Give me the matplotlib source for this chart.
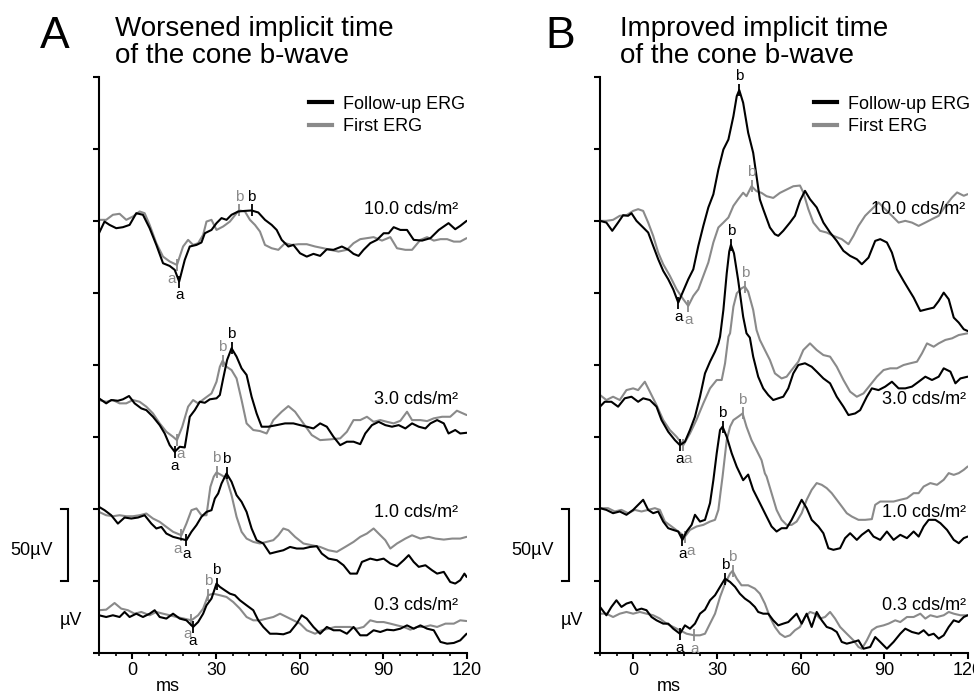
import numpy as np
import matplotlib
matplotlib.use('Agg')
import matplotlib.pyplot as plt
from matplotlib.lines import Line2D
from matplotlib.ticker import MultipleLocator
import matplotlib.transforms as mtrans

plt.rcParams['font.family'] = ['Liberation Sans', 'DejaVu Sans']

# ---------------- data (time in ms, amplitude in µV relative to trace baseline) -------------
intensities = ['10.0', '3.0', '1.0', '0.3']
series_names = ['Follow-up ERG', 'First ERG']

# ----- Panel A: worsened implicit time -----
A10_follow = [(-12,-8.6),(-10,-0.5),(-8.2,-2.8),(-5.8,-5.1),(-3.4,-4.4),(-1.0,-2.8),(1.4,5.3),(3.8,4.2),(6.2,-5.1),(8.6,-16.7),(11.0,-29.4),(13.4,-31.3),(15.2,-34),(16.8,-42.1),(18.8,-27.1),(20.6,-17.8),(23.0,-16.7),(24.8,-15),(26.0,-8.6),(28.4,-6.3),(30.2,-1.6),(32.0,1.9),(33.8,0.7),(35.6,4.2),(38.0,6.5),(40.4,6.9),(42.8,7.2),(45.2,5.8),(47.6,0.7),(50.0,-2.8),(51.8,-6.3),(53.6,-13.2),(56.0,-17.8),(57.8,-16.7),(60.2,-22.5),(62.6,-24.8),(65.0,-22.9),(67.4,-24.3),(69.8,-19.7),(72.2,-20.1),(75.2,-17.8),(77.6,-20.1),(79.4,-22.9),(81.2,-24.3),(83.0,-20.1),(85.4,-15.5),(87.8,-13.2),(90.2,-8.6),(92.0,-8.6),(93.8,-4.4),(96.2,-6.3),(98.6,-6.3),(101.0,-13.2),(104.0,-13.7),(107.0,-12),(110.0,-6.3),(113.5,-1.6),(115.9,-5.8),(117.7,-3.5),(120,0)]
A10_first = [(-12,0.7),(-9.4,0.7),(-7.0,4.2),(-4.6,4.9),(-2.2,0.7),(0.2,3.0),(2.6,6.5),(4.4,5.3),(6.2,-2.8),(8.6,-15.5),(11.0,-24.8),(13.4,-28.2),(16.0,-30.6),(18.2,-17.8),(20.0,-13.2),(21.8,-16.7),(23.6,-15.5),(25.4,-9.7),(26.6,-0.5),(28.4,0.7),(30.2,-6.3),(32.6,-3.9),(35.0,-0.5),(37.4,5.3),(38.4,7.2),(40.4,6.5),(42.2,0.7),(44.0,-2.8),(45.8,-7.4),(47.6,-16.7),(50.0,-19),(52.4,-20.1),(54.8,-15.5),(57.2,-16.7),(59.6,-16.2),(62.6,-16.2),(65.6,-17.8),(68.6,-19),(71.0,-20.1),(74.0,-21.3),(77.0,-20.1),(79.4,-15.5),(81.8,-12.7),(84.2,-12),(86.6,-11.3),(89.6,-13.7),(92.6,-11.3),(95.0,-19),(98.0,-20.1),(100.4,-20.1),(103.4,-13.2),(105.8,-11.3),(108.2,-13.7),(110.6,-12.7),(113.0,-12.7),(115.4,-14.4),(117.7,-14.4),(120,-12)]
A3_follow = [(-12,1.9),(-9.4,-1.6),(-7.6,0.7),(-5.2,0.2),(-3.4,1.2),(-1.2,3.5),(0.8,-1.6),(3.2,-5.1),(5.0,-6.3),(7.4,-10.9),(9.8,-16.7),(11.6,-22.5),(13.4,-30.6),(15.2,-35.2),(17.0,-31.7),(18.8,-32.2),(20.6,-10.9),(22.4,-6.3),(24.2,-0.5),(26.0,-1.2),(27.8,1.2),(30.2,1.9),(31.4,4.2),(32.6,15.7),(34.0,28.5),(35.6,36.6),(37.4,30.8),(39.2,22.7),(41.0,18.1),(42.8,3.0),(44.6,-8.6),(46.4,-17.8),(48.8,-17.8),(51.8,-16.7),(54.8,-15.5),(57.8,-15.5),(60.2,-16.7),(62.6,-17.8),(65.0,-19),(67.4,-15.5),(69.8,-17.8),(72.2,-24.8),(74.6,-30.6),(77.0,-28.2),(79.4,-28.2),(81.8,-29.9),(83.6,-22.5),(86.0,-16.7),(88.4,-14.4),(90.8,-16.7),(93.2,-17.8),(95.6,-16.7),(98.0,-19),(100.4,-15.5),(102.8,-17.8),(105.2,-19),(107.0,-15.5),(109.4,-13.2),(111.8,-15.5),(113.5,-22.5),(115.9,-20.1),(117.7,-22.5),(120,-22)]
A3_first = [(-12,0.7),(-9.4,-0.5),(-7.0,0.7),(-4.6,-1.6),(-2.2,-1.6),(0.2,0.7),(2.6,-0.5),(5.0,-3.9),(7.4,-8.6),(9.8,-15.5),(12.2,-21.3),(14.6,-24.8),(16.0,-27.1),(17.9,-17.8),(20.0,-3.9),(21.8,0.7),(23.6,-1.6),(26.0,1.9),(28.4,5.3),(30.2,13.4),(31.4,23.8),(32.4,28),(33.8,23.8),(35.6,21.5),(37.4,15.7),(39.2,0.7),(41.0,-15.5),(43.4,-20.1),(45.8,-20.8),(48.2,-22.5),(50.6,-13.2),(53.6,-7.4),(56.0,-3.5),(58.4,-7.4),(61.4,-15.5),(64.4,-23.6),(67.4,-27.1),(70.9,-26.6),(74.6,-25.9),(77.0,-21.3),(79.4,-13.2),(81.8,-13.2),(84.2,-10.9),(86.6,-14.4),(89.0,-13.2),(91.4,-14.4),(93.8,-15.5),(96.2,-13.7),(98.6,-7.4),(100.4,-13.2),(103.4,-13.2),(105.8,-13.9),(108.2,-12),(111.2,-10.9),(114.1,-10.9),(116.5,-6.7),(120,-9.7)]
A1_follow = [(-12,1.6),(-10.0,-0.7),(-7.6,-4.2),(-5.2,-10),(-2.8,-5.8),(-0.4,-6.5),(2.0,-5.8),(4.4,-4.2),(6.8,-10),(8.6,-13.4),(10.4,-12.3),(12.2,-16.9),(14.6,-19.2),(17.0,-20.4),(19.4,-21.5),(21.2,-15.7),(23.0,-11.1),(24.8,-5.3),(26.6,-1.9),(28.4,-0.7),(29.6,7.4),(30.8,10.9),(32.0,17.8),(33.8,24.8),(35.6,19),(37.4,9.7),(39.2,5.1),(41.0,-1.9),(42.8,-13.4),(44.6,-21.5),(47.0,-23.8),(49.4,-30.8),(51.8,-29.6),(54.2,-28.5),(56.6,-26.2),(59.0,-27.3),(61.4,-27.3),(63.8,-26.2),(66.2,-25.7),(68.0,-30.8),(70.4,-34.3),(73.4,-35.4),(75.8,-38.9),(78.2,-44.7),(80.6,-44.7),(82.4,-36.6),(85.4,-34.3),(87.8,-35.4),(90.2,-34.3),(92.6,-37.7),(95.0,-39.6),(97.4,-35.4),(99.2,-31.9),(101.0,-36.6),(102.8,-40),(105.2,-38.9),(107.6,-42.4),(109.4,-44.7),(111.8,-43.5),(114.1,-50.5),(115.9,-51.6),(117.7,-49.3),(119.2,-44.7),(120,-47)]
A1_first = [(-12,-1.9),(-9.4,-4.2),(-7.0,-4.9),(-4.6,-4.2),(-2.2,-4.9),(0.2,-4.9),(2.6,-4.2),(5.0,-3),(7.4,-6.5),(9.8,-8.8),(12.2,-12.3),(14.6,-15.7),(17.6,-18.1),(19.4,-10),(21.2,-0.7),(23.0,0.5),(24.8,-4.2),(26.6,-4.2),(28.0,15.5),(29.2,22.5),(30.2,25.5),(32.0,23.6),(33.8,21.3),(35.6,9.7),(37.4,-5.3),(39.2,-15.7),(41.0,-20.4),(43.4,-22.7),(45.8,-23.8),(48.2,-22.7),(50.6,-21.5),(52.4,-18.1),(54.2,-13.4),(56.0,-14.6),(58.4,-19.2),(61.4,-23.8),(64.4,-25),(67.4,-26.2),(70.4,-28.5),(73.4,-29.6),(76.4,-26.2),(79.4,-22.7),(81.8,-19.2),(84.2,-16.9),(86.6,-13.4),(88.4,-16.9),(90.8,-21.5),(92.6,-27.3),(95.0,-23.8),(98.0,-20.4),(100.4,-18.1),(103.4,-20.4),(106.4,-19.2),(108.8,-20.4),(111.8,-21.1),(114.8,-20.4),(117.7,-20.4),(120,-19.2)]
A03_follow = [(-12,-1.6),(-9.4,-2.8),(-7.0,-1.6),(-4.6,-2.8),(-2.8,0.7),(-1.0,-2.8),(1.4,-0.5),(3.8,-2.8),(6.2,-0.5),(8.0,1.9),(9.8,-2.8),(12.2,-3.9),(14.6,-0.5),(17.0,-3.9),(19.4,-5.1),(21.8,-9.7),(23.6,-6.3),(25.4,-0.5),(26.6,5.3),(28.4,10),(30.2,20.4),(31.4,18.1),(33.2,15.7),(35.0,13.4),(36.8,12.3),(38.6,8.8),(41.0,5.3),(43.4,1.9),(45.2,-5.1),(47.0,-9.7),(49.4,-14.4),(51.8,-14.4),(54.2,-14.8),(56.6,-13.2),(59.0,-7.4),(60.8,-1.6),(62.6,-3.9),(65.0,-9.7),(67.4,-14.4),(69.8,-9.7),(72.2,-12),(74.6,-12),(77.0,-14.4),(79.4,-9.7),(81.8,-15.5),(84.2,-15.5),(86.6,-12),(89.0,-13.2),(91.4,-11.6),(93.8,-12),(96.2,-10.9),(98.6,-8.6),(101.0,-10.9),(103.4,-8.6),(105.8,-10.9),(108.2,-12),(110.6,-20.1),(113.0,-21.3),(115.4,-20.8),(117.7,-19),(120,-14.4)]
A03_first = [(-12,1.9),(-9.4,2.3),(-6.4,6.9),(-4.0,3.0),(-1.6,1.9),(0.8,-0.5),(3.2,0.7),(6.2,-1.6),(8.6,0.7),(11.0,-0.5),(13.4,-1.6),(15.8,-2.8),(18.5,-3.9),(21.2,-5.1),(23.6,-1.6),(25.4,3.0),(27.2,12.3),(29.0,13.4),(31.4,12.3),(33.8,11.1),(36.2,7.6),(38.6,3.0),(41.0,-2.8),(43.4,-5.1),(45.8,-5.1),(48.2,-3.9),(50.6,-2.8),(53.0,-0.5),(55.4,-2.8),(57.8,-5.1),(60.2,-7.4),(62.6,-12),(65.6,-14.4),(68.0,-12),(70.4,-10.9),(72.8,-9.7),(75.2,-9.7),(78.2,-9.7),(80.6,-10.9),(83.0,-9.7),(85.4,-5.1),(87.8,-6.3),(90.2,-6.3),(92.6,-7.4),(95.0,-8.6),(97.4,-9.7),(99.8,-11.6),(102.2,-9.7),(104.6,-9.7),(107.0,-8.6),(109.4,-9.7),(112.4,-7.4),(115.4,-7.4),(117.7,-5.1),(120,-5.6)]

# ----- Panel B: improved implicit time -----
B10_follow = [(-12,0),(-9.7,-1.2),(-7.6,-6.9),(-5.5,-1.2),(-3.7,3.9),(-1.9,3.5),(-0.7,5.3),(1.1,0),(3.5,-4.6),(5.3,-8.1),(7.1,-17.4),(8.9,-26.6),(10.7,-34.7),(12.5,-40.5),(14.3,-47.5),(16.1,-56.7),(17.9,-48.6),(19.7,-40.5),(21.5,-33.6),(23.3,-17.4),(25.1,-3.5),(26.9,9.3),(28.7,18.4),(30.5,35.6),(32.3,49.5),(34.1,56.4),(35.9,72.6),(37.1,86.5),(38.0,90.7),(39.4,81.9),(41.2,61.1),(43.0,47.2),(44.2,31),(45.4,14.8),(46.6,8.1),(49.0,-4.6),(50.8,-9.3),(52.0,-10.4),(53.8,-6.9),(56.2,-1.2),(58.0,3.5),(59.8,13.9),(61.6,20.8),(63.4,15),(65.8,9.3),(68.2,-1.2),(70.6,-8.1),(73.0,-13.9),(75.4,-20.8),(77.8,-24.3),(80.2,-26.6),(82.0,-30.1),(84.4,-25.5),(86.8,-13.9),(88.6,-12.7),(91.0,-15),(92.8,-22),(94.6,-33.6),(97.0,-41.7),(98.8,-47.5),(100.6,-53.2),(103.0,-62.5),(105.4,-61.3),(107.8,-60.2),(109.6,-55.6),(111.4,-49.8),(113.2,-54.4),(115.0,-67.1),(116.8,-70.6),(118.6,-75.2),(120,-76.4)]
B10_first = [(-12,0),(-9.7,0),(-7.3,0.7),(-4.9,3.5),(-2.5,3.9),(-0.1,6.9),(1.7,8.1),(3.5,6.9),(5.3,-1.2),(7.1,-10.4),(8.9,-22),(10.7,-30.1),(13.1,-38.2),(15.5,-47.5),(17.9,-54.4),(19.7,-59),(21.5,-52.1),(23.3,-47.5),(25.1,-38.2),(26.9,-28.9),(28.7,-15),(30.5,-4.6),(32.3,-1.2),(34.1,2.3),(35.9,10.4),(37.6,15),(39.4,19.5),(40.6,17.1),(42.4,24),(44.2,20.6),(46.0,19.4),(47.8,17.1),(50.2,15.9),(52.6,19.4),(55.0,21.7),(57.4,24),(59.8,24.5),(61.0,19.7),(62.8,8.1),(64.6,-1.2),(67.0,-6.9),(69.4,-8.1),(71.8,-10.4),(74.8,-12.7),(77.2,-16.2),(79.0,-10.4),(80.8,-3.5),(83.2,3.5),(85.6,8.1),(88.0,12.7),(90.4,8.1),(92.8,3.5),(95.2,-1.2),(97.6,0),(100.0,-1.2),(102.4,-3.5),(104.8,-1.2),(107.2,1.2),(109.6,3.5),(112.0,10.4),(114.4,16.2),(116.2,19.7),(118.6,17.4),(120,18.5)]
B3_follow = [(-12,-3.9),(-10.3,-0.5),(-7.9,-0.5),(-5.5,-3.9),(-3.1,1.9),(-0.7,3),(1.7,-0.5),(3.5,1.9),(5.9,0.7),(8.3,-3.9),(10.1,-13.2),(12.5,-21.3),(14.9,-27.1),(16.7,-30.6),(18.5,-28.2),(20.3,-20.1),(22.1,-10.9),(23.9,3),(25.7,19.2),(27.5,27.3),(29.3,34.3),(30.5,40),(31.1,44.6),(32.3,63.2),(33.5,88.6),(34.4,103.7),(35.0,108.3),(36.1,102.5),(37.6,84),(39.4,58.5),(40.6,47),(41.8,44),(43.0,30.8),(44.8,16.9),(46.6,8.8),(48.4,4.2),(50.2,0.7),(52.0,1.9),(53.8,3),(55.6,8.8),(57.4,19.2),(59.2,25),(61.6,26.2),(64.0,23.8),(65.8,20.4),(68.2,15.7),(70.6,12.3),(73.0,3),(75.4,-3.9),(77.2,-9.7),(79.6,-8.6),(81.4,-6.3),(83.8,3),(85.6,8.8),(88.0,7.6),(90.4,10),(92.8,13.4),(95.2,8.8),(97.6,8.8),(100.0,10),(102.4,13.4),(104.8,16.9),(107.2,14.6),(109.6,16.9),(111.4,22.7),(113.8,20.4),(115.6,12.3),(117.4,15.7),(120,16.9)]
B3_first = [(-12,4.2),(-9.7,0.7),(-7.3,3),(-4.9,0.7),(-2.5,7.6),(-0.1,8.8),(1.7,7.6),(4.1,13.4),(5.9,6.5),(8.3,-2.8),(10.7,-13.2),(13.1,-20.1),(15.5,-24.8),(17.9,-30.6),(20.3,-22.5),(22.6,-13.2),(25.1,-1.6),(27.5,8.8),(29.9,14.6),(31.7,14.6),(32.9,26.2),(34.1,44.7),(34.7,47),(35.9,65.5),(37.1,74.7),(38.8,78.2),(40.0,79.4),(41.2,75.9),(43.0,63.2),(44.2,49.3),(45.4,42.4),(47.2,35.4),(49.0,28.5),(50.8,19.2),(53.2,15.7),(55.0,16.9),(56.8,21.5),(59.2,27.3),(61.0,35.4),(63.4,40),(65.8,35.4),(68.2,31.9),(70.6,30.8),(73.0,23.8),(75.4,14.6),(77.8,6.5),(80.2,3),(82.6,5.3),(85.0,11.1),(87.4,16.9),(89.8,21.5),(92.2,22.7),(94.6,22.7),(97.0,25),(99.4,26.2),(101.8,27.3),(103.6,33.1),(105.4,40),(107.8,37.7),(109.6,40),(112.0,42.4),(114.4,43.5),(116.8,45.8),(120,47)]
B1_follow = [(-12,0.7),(-9.7,-0.5),(-7.3,-2.8),(-4.9,-1.6),(-2.5,-3.9),(-0.1,-0.5),(1.7,3),(3.5,6.5),(5.3,-0.5),(7.1,-2.8),(8.9,-1.6),(10.7,-8.6),(12.5,-13.2),(14.3,-14.4),(16.1,-15.5),(17.6,-21.3),(19.1,-15.5),(20.9,-10.9),(22.1,-3.9),(23.9,-8.6),(25.7,-7.4),(27.5,4.2),(28.7,20.1),(29.9,38.7),(31.1,54.9),(32.0,57.2),(33.5,50.2),(35.3,38.7),(37.1,29.4),(39.4,20.1),(41.2,24),(43.0,13.4),(45.4,4.2),(47.8,-5.1),(49.6,-12),(51.4,-15.5),(53.2,-13.2),(55.0,-13.2),(56.8,-7.4),(58.6,-0.5),(60.4,6.5),(62.2,0.7),(64.0,-7.4),(66.4,-12),(68.2,-16.7),(70.0,-27.1),(71.8,-28.2),(74.2,-27.1),(76.0,-20.1),(77.8,-16.7),(80.2,-21.3),(82.0,-17.8),(84.4,-14.4),(86.2,-19),(88.6,-21.3),(91.0,-15.5),(93.4,-21.3),(95.8,-17.8),(98.2,-20.1),(100.6,-15.5),(102.4,-19),(104.2,-12),(106.0,-7.4),(108.4,-7.4),(110.2,-9.7),(112.6,-14.4),(115.0,-21.3),(116.8,-23.6),(118.6,-20.1),(120,-19)]
B1_first = [(-12,0.7),(-9.1,0.7),(-6.7,-1.6),(-4.3,-0.5),(-1.9,-2.8),(0.5,-0.5),(2.9,-1.6),(5.3,-0.5),(7.7,0.7),(9.5,-0.5),(11.3,-8.6),(13.7,-12),(16.1,-15.5),(18.5,-19),(20.3,-14.4),(22.7,-12),(25.1,-10.9),(27.5,-8.6),(29.3,-7.4),(30.5,-0.5),(31.3,12),(32.0,22.5),(33.5,47.9),(34.7,57.2),(35.9,61.8),(37.6,64.1),(39.2,66.4),(40.6,57.2),(42.4,47.9),(44.2,41),(46.0,34),(47.2,24.8),(47.8,22.7),(49.6,11.1),(51.4,-0.5),(53.2,-7.4),(55.0,-10.9),(56.8,-10.9),(58.6,-8.6),(60.4,-2.8),(62.2,6.5),(64.0,13.4),(65.8,18.1),(67.6,16.9),(69.4,14.6),(71.2,11.1),(73.0,6.5),(74.8,1.9),(76.6,-2.8),(78.4,-5.1),(80.8,-7.4),(83.2,-7.4),(85.6,-6.9),(86.8,3),(88.6,5.3),(91.0,5.3),(93.4,5.3),(95.8,6.5),(98.2,7.6),(100.6,11.1),(102.4,11.1),(104.2,15.7),(106.6,18.1),(109.0,16.9),(111.4,20.4),(113.2,25),(115.0,23.8),(116.8,25),(118.6,27.3),(120,29.6)]
B03_follow = [(-12,4.2),(-9.7,-1.6),(-7.9,4.2),(-6.1,8.8),(-4.3,4.2),(-2.5,6.5),(-0.7,7.6),(1.1,1.9),(2.9,3),(4.7,1.9),(6.5,-2.8),(8.3,-5.1),(10.7,-7.4),(12.5,-7.4),(14.3,-10.9),(16.7,-14.4),(18.5,-8.6),(20.3,-10.9),(22.1,-7.4),(23.9,-0.5),(25.7,2.3),(27.5,8.8),(29.3,12.3),(31.1,18.1),(32.9,23.8),(34.7,21.5),(36.5,18.1),(38.2,13.4),(40.0,10),(41.8,7.6),(43.6,4.2),(44.8,0.7),(46.6,-0.5),(48.4,-0.5),(50.2,-5.1),(52.0,-8.6),(53.8,-7.4),(55.6,-6.3),(57.4,-2.8),(58.6,-0.5),(60.4,-7.4),(62.2,-0.5),(64.0,-9.7),(65.8,0.7),(67.6,-5.1),(69.4,-9.7),(71.2,-10.9),(73.0,-13.2),(74.8,-20.1),(76.6,-21.3),(79.0,-20.1),(80.8,-19),(82.6,-24.8),(85.0,-23.6),(86.8,-16.7),(88.6,-20.1),(91.0,-24.8),(93.4,-20.1),(95.8,-14.4),(97.6,-10.9),(100.0,-13.2),(102.4,-14.4),(104.2,-12),(106.0,-15.5),(107.8,-14.4),(109.6,-17.8),(111.4,-15.5),(113.2,-9.7),(115.0,-5.1),(116.8,-6.3),(118.6,-2.8),(120,-1.6)]
B03_first = [(-12,-0.5),(-9.7,-0.5),(-7.3,-2.8),(-4.9,-0.5),(-2.5,0.7),(-0.1,-0.5),(2.3,0.7),(4.7,-0.5),(7.1,-1.6),(9.5,-3.9),(11.9,-7.4),(14.3,-9.7),(16.7,-12),(19.1,-14.4),(21.8,-15.5),(23.9,-15.5),(25.7,-14.4),(27.5,-7.4),(29.3,-0.5),(31.1,11.1),(32.9,20.4),(34.7,27.3),(35.6,29.2),(37.1,23.8),(38.8,19.2),(41.2,19.2),(43.6,16.9),(45.4,13.4),(47.2,6.5),(49.0,-2.8),(50.8,-9.7),(52.6,-14.4),(54.4,-16.7),(56.2,-15.5),(58.0,-12),(59.8,-9.7),(61.6,-2.8),(63.4,0.7),(65.2,-0.5),(67.0,-3.9),(68.8,-2.8),(70.6,0.7),(72.4,-3.9),(74.2,-9.7),(76.6,-14.4),(79.0,-19),(80.8,-23.6),(82.0,-24.8),(83.8,-19),(85.6,-12),(87.4,-9.7),(89.8,-8.6),(91.6,-7.4),(94.0,-5.1),(95.8,-6.3),(98.2,-2.8),(100.6,-2.8),(103.0,-0.5),(104.8,-3.9),(106.6,-1.6),(109.0,-2.8),(111.4,-1.6),(113.2,0.7),(115.0,-0.5),(117.4,-1.6),(120,-1.6)]

# implicit times (ms) of a- and b-wave markers: (a, b)
A_peaks_follow = {'10.0': (16.8, 42.8), '3.0': (15.2, 35.6), '1.0': (19.4, 33.8), '0.3': (21.8, 30.2)}
A_peaks_first  = {'10.0': (16.0, 38.4), '3.0': (16.0, 32.4), '1.0': (17.6, 30.2), '0.3': (21.2, 27.2)}
B_peaks_follow = {'10.0': (16.1, 38.0), '3.0': (16.7, 35.0), '1.0': (17.6, 32.0), '0.3': (16.7, 32.9)}
B_peaks_first  = {'10.0': (19.7, 42.4), '3.0': (17.9, 40.0), '1.0': (18.5, 39.2), '0.3': (21.8, 35.6)}

x_ticks = [0, 30, 60, 90, 120]
scale_bar_uV = 50

# ---------------- layout / style ----------------
BLACK = '#000000'
GRAY = '#8a8a8a'
offsets = {'10.0': 300, '3.0': 175, '1.0': 100, '0.3': 28}
label_y = {'10.0': 308, '3.0': 176, '1.0': 98, '0.3': 33}
a_dx_first = {'A': {'10.0': -4, '3.0': 3, '1.0': -3, '0.3': -3},
              'B': {'10.0': 0, '3.0': 3, '1.0': 4, '0.3': 0}}

fig = plt.figure(figsize=(9.74, 6.94), dpi=100)
axA = fig.add_axes([0.1016, 0.0586, 0.3775, 0.8309])
axB = fig.add_axes([0.6160, 0.0586, 0.3775, 0.8309])

panels = {
    'A': dict(ax=axA,
              follow={'10.0': A10_follow, '3.0': A3_follow, '1.0': A1_follow, '0.3': A03_follow},
              first={'10.0': A10_first, '3.0': A3_first, '1.0': A1_first, '0.3': A03_first},
              pk_follow=A_peaks_follow, pk_first=A_peaks_first, label_x=117.0, leg_x=0.995),
    'B': dict(ax=axB,
              follow={'10.0': B10_follow, '3.0': B3_follow, '1.0': B1_follow, '0.3': B03_follow},
              first={'10.0': B10_first, '3.0': B3_first, '1.0': B1_first, '0.3': B03_first},
              pk_follow=B_peaks_follow, pk_first=B_peaks_first, label_x=119.3, leg_x=1.006),
}


def draw_trace(ax, pts, off, color, peaks, zo, adx=0):
    t = np.array([p[0] for p in pts], dtype=float)
    v = np.array([p[1] for p in pts], dtype=float) + off
    ax.plot(t, v, color=color, lw=1.5, zorder=zo, solid_joinstyle='round', solid_capstyle='round')
    ta, tb = peaks
    ya = np.interp(ta, t, v)
    yb = np.interp(tb, t, v)
    ax.plot([ta], [ya], marker='|', ms=8, mew=1.3, color=color, zorder=zo)
    ax.plot([tb], [yb], marker='|', ms=8, mew=1.3, color=color, zorder=zo)
    ax.annotate('a', (ta, ya), xytext=(adx, -5), textcoords='offset points', ha='center', va='top',
                fontsize=11, color=color, zorder=zo + 2)
    ax.annotate('b', (tb, yb), xytext=(0, 5), textcoords='offset points', ha='center', va='bottom',
                fontsize=11, color=color, zorder=zo + 2)


for key, P in panels.items():
    ax = P['ax']
    for inten in intensities:
        off = offsets[inten]
        draw_trace(ax, P['first'][inten], off, GRAY, P['pk_first'][inten], 2, a_dx_first[key][inten])
        draw_trace(ax, P['follow'][inten], off, BLACK, P['pk_follow'][inten], 3)
        ax.text(P['label_x'], label_y[inten], f'{inten} cds/m\u00b2', ha='right', va='center',
                fontsize=13, zorder=6)

    ax.set_xlim(-12, 120)
    ax.set_ylim(0, 400)
    ax.set_xticks(x_ticks)
    ax.xaxis.set_minor_locator(MultipleLocator(6))
    ax.set_yticks(np.arange(0, 401, 50))
    ax.set_yticklabels([])
    for s in ['top', 'right']:
        ax.spines[s].set_visible(False)
    for s in ['left', 'bottom']:
        ax.spines[s].set_linewidth(1.5)
    ax.tick_params(axis='x', which='major', direction='out', length=4.5, width=1.5, labelsize=13, pad=1.5)
    ax.tick_params(axis='x', which='minor', direction='out', length=2.5, width=1.2)
    ax.tick_params(axis='y', which='major', direction='out', length=4, width=1.5)
    ax.patch.set_visible(False)

    # scale bar (bracket)
    tr = mtrans.blended_transform_factory(ax.transAxes, ax.transData)
    bx, bl = -0.0835, -0.102
    ax.plot([bl, bx, bx, bl], [100, 100, 100 - scale_bar_uV, 100 - scale_bar_uV], transform=tr,
            color='black', lw=1.5, clip_on=False, solid_joinstyle='miter')
    ax.text(-0.126, 71, f'{scale_bar_uV}\u00b5V', transform=tr, ha='right', va='center', fontsize=13)
    ax.text(-0.047, 23, '\u00b5V', transform=tr, ha='right', va='center', fontsize=13)
    trx = mtrans.blended_transform_factory(ax.transData, ax.transAxes)
    ax.text(12.7, -0.058, 'ms', transform=trx, ha='center', va='center', fontsize=13)

    handles = [Line2D([], [], color=BLACK, lw=3), Line2D([], [], color=GRAY, lw=3)]
    ax.legend(handles, series_names, loc='upper right', bbox_to_anchor=(P['leg_x'], 0.967),
              frameon=False, fontsize=13, handlelength=1.25, handletextpad=0.6,
              labelspacing=0.3, borderpad=0, borderaxespad=0)

# panel letters and titles
fig.text(0.041, 0.931, 'A', fontsize=32, va='baseline', ha='left')
fig.text(0.118, 0.948, 'Worsened implicit time', fontsize=20, va='baseline', ha='left')
fig.text(0.118, 0.909, 'of the cone b-wave', fontsize=20, va='baseline', ha='left')
fig.text(0.5595, 0.931, 'B', fontsize=32, va='baseline', ha='left')
fig.text(0.6366, 0.948, 'Improved implicit time', fontsize=20, va='baseline', ha='left')
fig.text(0.6366, 0.909, 'of the cone b-wave', fontsize=20, va='baseline', ha='left')

fig.savefig('out.png', dpi=100)
